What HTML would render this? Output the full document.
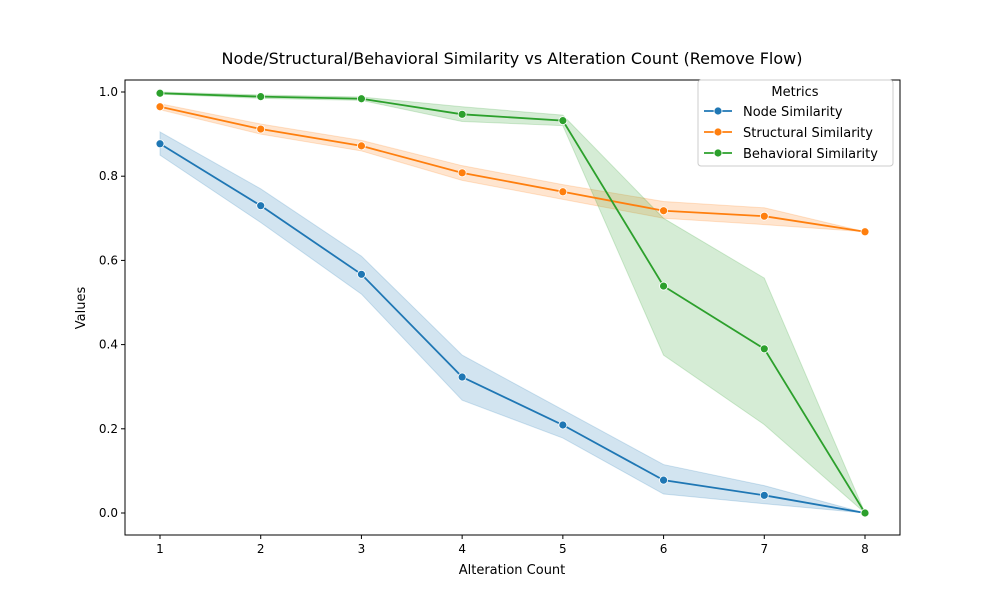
<!DOCTYPE html>
<html><head><meta charset="utf-8"><style>
body{margin:0;background:#fff;font-family:"Liberation Sans","DejaVu Sans",sans-serif}
svg text{font-family:"DejaVu Sans","Liberation Sans",sans-serif}
</style></head><body>
<svg id="chart" width="1000" height="600" xmlns="http://www.w3.org/2000/svg"></svg>
<script>
const categories=[1,2,3,4,5,6,7,8];
const nodeVals=[0.877,0.730,0.567,0.323,0.209,0.078,0.042,0.0];
const nodeLo=[0.850,0.690,0.520,0.268,0.178,0.045,0.022,0.0];
const nodeHi=[0.905,0.770,0.610,0.375,0.245,0.115,0.065,0.0];
const structVals=[0.965,0.912,0.872,0.808,0.763,0.718,0.705,0.668];
const structLo=[0.958,0.900,0.860,0.790,0.745,0.700,0.685,0.668];
const structHi=[0.972,0.924,0.885,0.825,0.780,0.740,0.725,0.668];
const behavVals=[0.997,0.989,0.984,0.947,0.932,0.539,0.390,0.0];
const behavLo=[0.995,0.985,0.980,0.930,0.920,0.375,0.210,0.0];
const behavHi=[1.0,0.993,0.988,0.965,0.945,0.700,0.558,0.0];
const yTicks=[0.0,0.2,0.4,0.6,0.8,1.0];
const seriesNames=["Node Similarity","Structural Similarity","Behavioral Similarity"];
const colors=["#1f77b4","#ff7f0e","#2ca02c"];
const svg=document.getElementById('chart');
const NS="http://www.w3.org/2000/svg";
const L=125,R=900,T=80,B=535;
const xs=v=>160+(v-1)*(865-160)/7;
const ys=v=>513-v*(513-92);
function mk(tag,attrs,parent){const e=document.createElementNS(NS,tag);for(const k in attrs)e.setAttribute(k,attrs[k]);(parent||svg).appendChild(e);return e;}
let frame=mk('rect',{x:L,y:T,width:R-L,height:B-T,fill:'none',stroke:'#000','stroke-width':1});


categories.forEach(c=>{
  let t=mk('line',{x1:xs(c),x2:xs(c),y1:B,y2:B+4,stroke:'#000'});
  
  
  let l=mk('text',{x:xs(c),y:B+18,'text-anchor':'middle','font-size':12});l.textContent=c;
  
  
});
yTicks.forEach(v=>{
  let t=mk('line',{x1:L-4,x2:L,y1:ys(v),y2:ys(v),stroke:'#000'});
  
  
  let l=mk('text',{x:L-7,y:ys(v)+4,'text-anchor':'end','font-size':12});l.textContent=v.toFixed(1);
  
  
});
const allV=[nodeVals,structVals,behavVals],allLo=[nodeLo,structLo,behavLo],allHi=[nodeHi,structHi,behavHi];
allV.forEach((vals,i)=>{
  let pts=categories.map((c,j)=>xs(c)+','+ys(allHi[i][j])).concat(categories.slice().reverse().map((c,k)=>{const j=categories.length-1-k;return xs(c)+','+ys(allLo[i][j]);}));
  let band=mk('polygon',{points:pts.join(' '),fill:colors[i],'fill-opacity':0.2,stroke:colors[i],'stroke-opacity':0.2});
  
  
});
allV.forEach((vals,i)=>{
  let line=mk('polyline',{points:categories.map((c,j)=>xs(c)+','+ys(vals[j])).join(' '),fill:'none',stroke:colors[i],'stroke-width':1.8});
  
  
  categories.forEach((c,j)=>{
    let p=mk('circle',{cx:xs(c),cy:ys(vals[j]),r:4,fill:colors[i],stroke:'#fff','stroke-width':0.8});
    
    
  });
});
let title=mk('text',{x:512,y:64,'text-anchor':'middle','font-size':16});title.textContent="Node/Structural/Behavioral Similarity vs Alteration Count (Remove Flow)";


let xt=mk('text',{x:512,y:574,'text-anchor':'middle','font-size':13});xt.textContent="Alteration Count";


let yt=mk('text',{x:85,y:308,'text-anchor':'middle','font-size':13,transform:'rotate(-90 85 308)'});yt.textContent="Values";


let lg=mk('rect',{x:698,y:80,width:195,height:86,rx:3,fill:'#fff','fill-opacity':0.8,stroke:'#ccc'});


let lt=mk('text',{x:795,y:96,'text-anchor':'middle','font-size':13});lt.textContent="Metrics";


seriesNames.forEach((n,i)=>{
  const y=111+i*21;
  let g=mk('g',{});
  
  
  mk('line',{x1:704,x2:732,y1:y,y2:y,stroke:colors[i],'stroke-width':1.8},g);
  mk('circle',{cx:718,cy:y,r:4,fill:colors[i],stroke:'#fff','stroke-width':0.8},g);
  let t=mk('text',{x:743,y:y+5,'font-size':13},g);t.textContent=n;
});
</script>
</body></html>
